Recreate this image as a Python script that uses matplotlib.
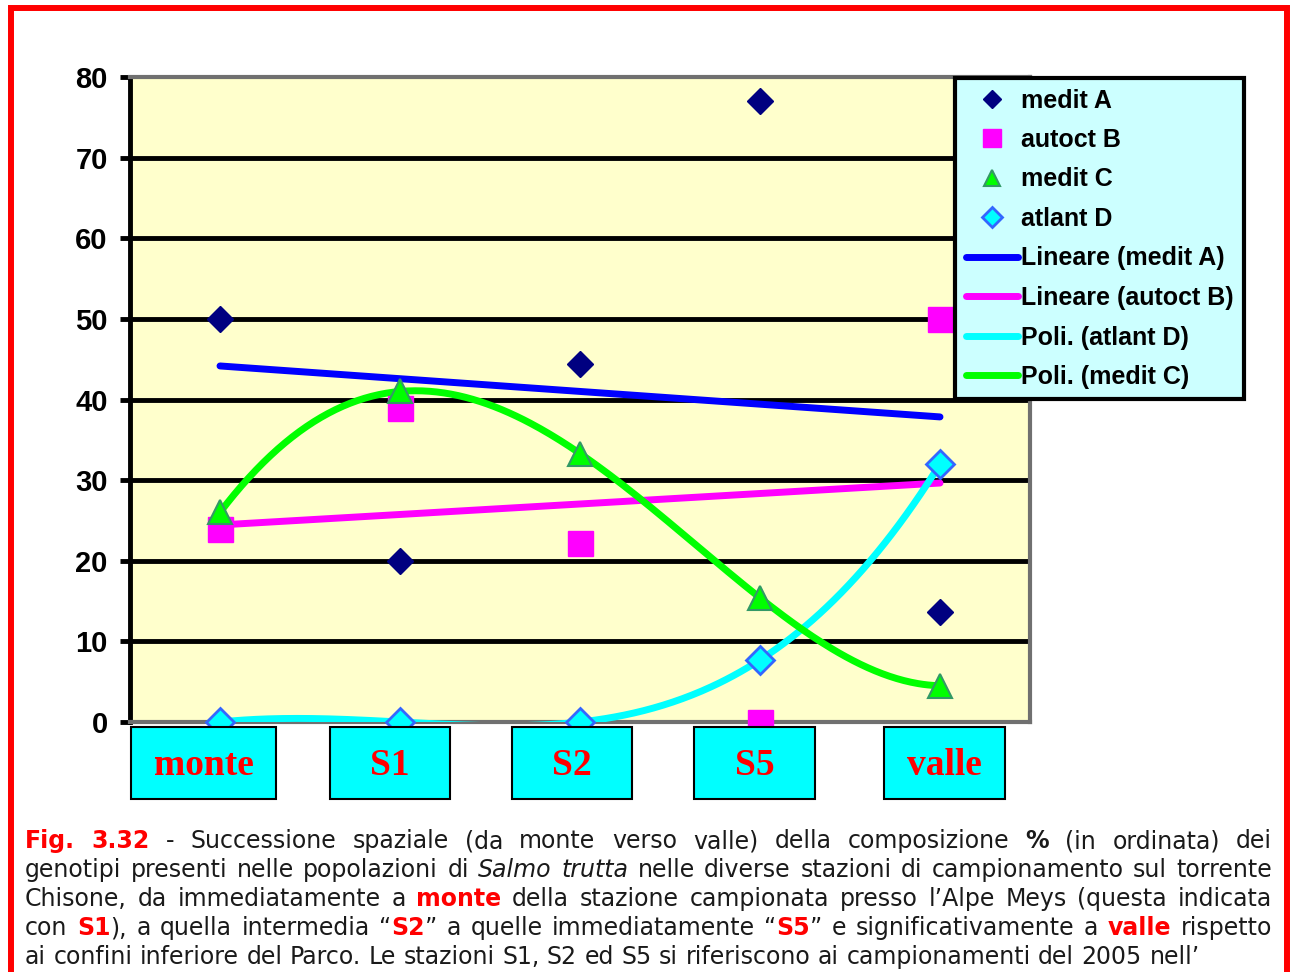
import re
import matplotlib.pyplot as plt
import numpy as np
from matplotlib.patches import Rectangle

stations = ['monte', 'S1', 'S2', 'S5', 'valle']
medit_a = [50, 20, 44.4, 77, 13.6]
autoct_b = [24, 39, 22.2, 0, 50]
medit_c = [26, 41, 33.3, 15.4, 4.5]
atlant_d = [0, 0, 0, 7.7, 32]
y_ticks = [0, 10, 20, 30, 40, 50, 60, 70, 80]

caption = [
    "*Fig.* *3.32* - Successione spaziale (da monte verso valle) della composizione #%# (in ordinata) dei",
    "genotipi presenti nelle popolazioni di _Salmo_ _trutta_ nelle diverse stazioni di campionamento sul torrente",
    "Chisone, da immediatamente a *monte* della stazione campionata presso l\u2019Alpe Meys (questa indicata",
    "con *S1*), a quella intermedia \u201c*S2*\u201d a quelle immediatamente \u201c*S5*\u201d e significativamente a *valle* rispetto",
    "ai confini inferiore del Parco. Le stazioni S1, S2 ed S5 si riferiscono ai campionamenti del 2005 nell\u2019",
]

W, H = 1290, 972
fig = plt.figure(figsize=(W / 100, H / 100), dpi=100)
ax = fig.add_axes([130 / W, 1 - 722 / H, 900 / W, 645 / H])
ax.set_facecolor('#FFFFCC')

x = np.arange(1, len(stations) + 1)
xs = np.linspace(1, len(stations), 300)


def trend(y, deg):
    return np.polyval(np.polyfit(x, y, deg), xs)


# trend lines
lin_a, = ax.plot(xs, trend(medit_a, 1), color='#0000FF', lw=5, solid_capstyle='round', zorder=3)
lin_b, = ax.plot(xs, trend(autoct_b, 1), color='#FF00FF', lw=5, solid_capstyle='round', zorder=3)
pol_d, = ax.plot(xs, trend(atlant_d, 4), color='#00FFFF', lw=5, solid_capstyle='round', zorder=3)
pol_c, = ax.plot(xs, trend(medit_c, 4), color='#00FF00', lw=5, solid_capstyle='round', zorder=3)

# data points
pa, = ax.plot(x, medit_a, 'D', color='#000080', ms=13, mec='#000080', ls='none', zorder=4, clip_on=False)
pb, = ax.plot(x, autoct_b, 's', color='#FF00FF', ms=18, mec='#FF00FF', ls='none', zorder=4, clip_on=False)
pc, = ax.plot(x, medit_c, '^', color='#00FF00', ms=17, mec='#339966', mew=1.5, ls='none', zorder=4, clip_on=False)
pd, = ax.plot(x, atlant_d, 'D', color='#00FFFF', ms=14, mec='#3366FF', mew=2, ls='none', zorder=4, clip_on=False)

ax.set_xlim(0.5, len(stations) + 0.5)
ax.set_ylim(0, 80)
ax.set_xticks([])
ax.set_yticks(y_ticks)
ax.set_yticklabels([str(t) for t in y_ticks], fontfamily='Liberation Sans', fontweight='bold')
ax.tick_params(axis='y', length=7, width=3.5, pad=9, labelsize=21, color='black')
ax.yaxis.grid(True, color='black', lw=3.5)
ax.set_axisbelow(True)
gl = ax.get_ygridlines()
gl[0].set_visible(False)
gl[-1].set_visible(False)
ax.spines['left'].set_color('black')
ax.spines['left'].set_linewidth(3.5)
for s in ['top', 'right', 'bottom']:
    ax.spines[s].set_color('#707070')
    ax.spines[s].set_linewidth(3)

handles = [pa, pb, pc, pd, lin_a, lin_b, pol_d, pol_c]
labels = ['medit A', 'autoct B', 'medit C', 'atlant D',
          'Lineare (medit A)', 'Lineare (autoct B)', 'Poli. (atlant D)', 'Poli. (medit C)']
leg = fig.legend(handles, labels, loc='upper left', bbox_to_anchor=(955 / W, 1 - 78 / H),
                 bbox_transform=fig.transFigure, borderaxespad=0, borderpad=0.42,
                 handlelength=2.1, handletextpad=0.12, labelspacing=0.62, markerscale=0.7,
                 fancybox=False, framealpha=1, facecolor='#CCFFFF', edgecolor='black',
                 prop={'family': 'Liberation Sans', 'weight': 'bold', 'size': 18})
leg.get_frame().set_linewidth(3)
leg.set_zorder(10)

# station boxes under the plot
boxes = [(131, 276), (330, 450), (512, 632), (694, 815), (884, 1005)]
for name, (x0, x1) in zip(stations, boxes):
    fig.add_artist(Rectangle((x0 / W, 1 - 799 / H), (x1 - x0) / W, 72 / H,
                             transform=fig.transFigure, facecolor='#00FFFF',
                             edgecolor='black', lw=1.5, zorder=6))
    fig.text((x0 + x1) / 2 / W, 1 - 775 / H, name, ha='center', va='baseline',
             fontfamily='Liberation Serif', fontweight='bold', fontsize=27,
             color='#FF0000', zorder=7)

# red frame
fig.add_artist(Rectangle((11 / W, -0.1), 1276 / W, 1.1 - 8.5 / H, transform=fig.transFigure,
                         fill=False, edgecolor='#FF0000', lw=4.3, zorder=20))

# caption, justified except the last line
styles = {
    'n': dict(color='#1a1a1a'),
    'r': dict(color='#FF0000', fontweight='bold'),
    'b': dict(color='#1a1a1a', fontweight='bold'),
    'i': dict(color='#1a1a1a', fontstyle='italic'),
}
marks = {'*': 'r', '#': 'b', '_': 'i'}
renderer = fig.canvas.get_renderer()
cap_size = 17
x_left, x_right = 25, 1272
baselines = [848, 877, 906, 935, 964]


def parse(word):
    segs = []
    for tok in re.split(r'(\*[^*]+\*|#[^#]+#|_[^_]+_)', word):
        if not tok:
            continue
        if tok[0] in marks and tok[-1] == tok[0] and len(tok) > 1:
            segs.append((tok[1:-1], marks[tok[0]]))
        else:
            segs.append((tok, 'n'))
    return segs


def width(t):
    return t.get_window_extent(renderer).width


probe = fig.text(0, 0, 'a a', fontsize=cap_size, fontfamily='DejaVu Sans')
probe2 = fig.text(0, 0, 'aa', fontsize=cap_size, fontfamily='DejaVu Sans')
space_w = width(probe) - width(probe2)
probe.remove()
probe2.remove()

for li, (line, yb) in enumerate(zip(caption, baselines)):
    words = []
    for w in line.split(' '):
        arts = []
        for txt, st in parse(w):
            arts.append(fig.text(0, 1 - yb / H, txt, fontsize=cap_size, va='baseline',
                                 fontfamily='DejaVu Sans', **styles[st]))
        words.append(arts)
    wws = [[width(a) for a in arts] for arts in words]
    total = sum(sum(w) for w in wws)
    if li < len(caption) - 1:
        gap = (x_right - x_left - total) / (len(words) - 1)
    else:
        gap = space_w
    xp = x_left
    for arts, ws in zip(words, wws):
        for a, w in zip(arts, ws):
            a.set_x(xp / W)
            xp += w
        xp += gap

fig.savefig('out.png', dpi=100)
